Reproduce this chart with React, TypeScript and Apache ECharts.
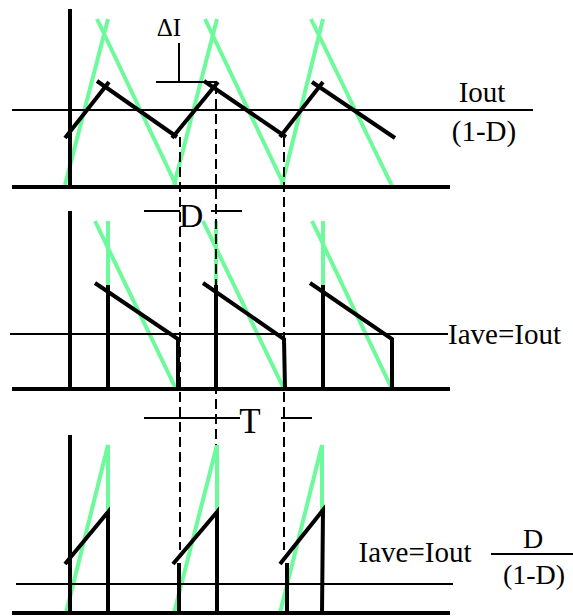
import React, { useEffect, useRef } from "react";
import * as echarts from "echarts";

// Diagram coordinates (time along x, level along y; y grows downward)
const axisLines: number[][][] = [
  [[12, 187], [450, 187]],
  [[70, 9], [70, 187]],
  [[12, 389], [450, 389]],
  [[70, 211], [70, 389]],
  [[12, 613], [450, 613]],
  [[70, 435], [70, 613]],
];

const referenceLines: number[][][] = [
  [[12, 110], [533, 110]],
  [[10, 334], [448, 334]],
  [[16, 584], [453, 584]],
  // ΔI marker
  [[179, 43], [179, 82]],
  [[156, 82], [217, 82]],
  // D marker
  [[144, 211], [180, 211]],
  [[211, 211], [242, 211]],
  // T marker
  [[144, 418], [240, 418]],
  [[281, 418], [312, 418]],
  // fraction bar
  [[491, 554], [573, 554]],
];

const dashedLines: number[][][] = [
  [[180, 137], [180, 550]],
  [[216, 84], [216, 445]],
  [[284, 137], [284, 550]],
];

const greenTop: number[][][] = [
  [[65, 185], [108, 19]],
  [[97, 19], [176, 185]],
  [[174, 185], [217, 19]],
  [[205, 19], [284, 185]],
  [[282, 185], [323, 19]],
  [[311, 19], [392, 186]],
];

const blackTop: number[][][] = [
  [[65, 138], [109, 82]],
  [[97, 81], [177, 137]],
  [[172, 138], [218, 82]],
  [[204, 81], [286, 137]],
  [[280, 137], [323, 82]],
  [[312, 82], [395, 138]],
];

const greenMid: number[][][] = [
  [[108, 221], [108, 285]],
  [[95, 221], [176, 389]],
  [[216, 221], [216, 285]],
  [[203, 221], [284, 389]],
  [[323, 221], [323, 285]],
  [[312, 221], [392, 389]],
];

const blackMid: number[][][] = [
  [[108, 285], [108, 389]],
  [[95, 283], [178, 339], [178, 389]],
  [[216, 285], [216, 389]],
  [[203, 283], [284, 339], [285, 389]],
  [[323, 285], [323, 389]],
  [[310, 283], [392, 339], [392, 389]],
];

const greenBottom: number[][][] = [
  [[66, 613], [108, 445], [108, 510]],
  [[174, 613], [217, 445], [217, 510]],
  [[280, 613], [322, 445], [322, 510]],
];

const blackBottom: number[][][] = [
  [[65, 564], [108, 512], [108, 613]],
  [[179, 563], [179, 613]],
  [[173, 564], [217, 512], [217, 613]],
  [[287, 563], [287, 613]],
  [[280, 564], [323, 510], [322, 613]],
];

const GREEN = "#6CFA9B";
const SERIF = '"Liberation Serif", "Times New Roman", serif';

function linesSeries(segs: number[][][], color: string, width: number, type: any, z: number) {
  return {
    type: "lines",
    coordinateSystem: "cartesian2d",
    polyline: true,
    silent: true,
    z,
    lineStyle: { color, width, type, opacity: 1, cap: "butt", join: "miter" },
    data: segs.map((s) => ({ coords: s })),
  };
}

function label(text: string, x: number, y: number, size: number, align = "center") {
  return {
    type: "text",
    x,
    y,
    z: 100,
    style: {
      text,
      fill: "#000",
      font: `${size}px ${SERIF}`,
      textAlign: align,
      textVerticalAlign: "middle",
    },
  };
}

export default function App() {
  const ref = useRef<HTMLDivElement>(null);
  useEffect(() => {
    if (!ref.current) return;
    const chart = echarts.init(ref.current, undefined, { renderer: "svg" });
    chart.setOption({
      animation: false,
      backgroundColor: "#fff",
      grid: { left: 0, right: 0, top: 0, bottom: 0, containLabel: false },
      xAxis: { type: "value", min: 0, max: 573, show: false },
      yAxis: { type: "value", min: 0, max: 616, inverse: true, show: false },
      series: [
        linesSeries(greenTop, GREEN, 4, "solid", 2),
        linesSeries(greenMid, GREEN, 4, "solid", 2),
        linesSeries(greenBottom, GREEN, 4, "solid", 2),
        linesSeries(referenceLines, "#000", 2, "solid", 3),
        linesSeries(dashedLines, "#000", 2, [10, 5], 3),
        linesSeries(blackTop, "#000", 4, "solid", 4),
        linesSeries(blackMid, "#000", 4, "solid", 4),
        linesSeries(blackBottom, "#000", 4, "solid", 4),
        linesSeries(axisLines, "#000", 4, "solid", 4),
      ],
      graphic: [
        label("ΔI", 169, 27, 25),
        label("Iout", 482, 92, 29),
        label("(1-D)", 484, 131, 29),
        label("D", 191, 215, 34),
        label("Iave=Iout", 448, 334, 29, "left"),
        label("T", 250, 421, 35),
        label("Iave=Iout", 415, 552, 29),
        label("D", 533, 538, 28),
        label("(1-D)", 534, 574, 28),
      ],
    });
    return () => chart.dispose();
  }, []);
  return (
    <div
      ref={ref}
      style={{ position: "absolute", left: 0, top: 0, width: 573, height: 616 }}
    />
  );
}
